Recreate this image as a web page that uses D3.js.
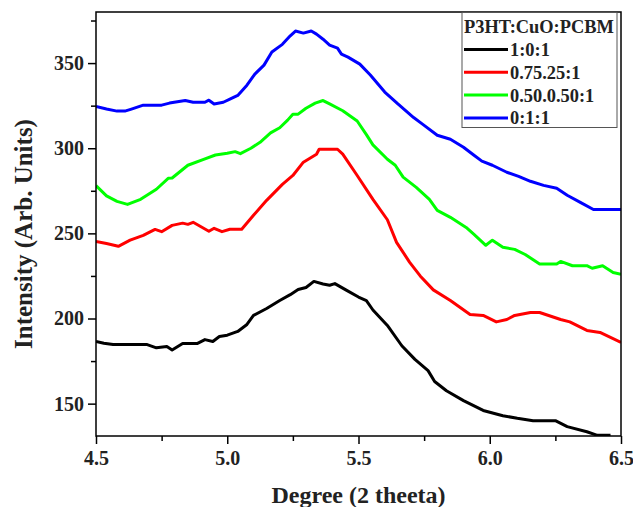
<!DOCTYPE html>
<html>
<head>
<meta charset="utf-8">
<script src="https://cdn.jsdelivr.net/npm/d3@7"></script>
<style>
  body { margin: 0; background: #fff; }
  text { font-family: "Liberation Serif", "Times New Roman", serif; font-weight: bold; }
</style>
</head>
<body>
<div id="chart"></div>
<script>
// series: [degree, intensity]
var black = [[4.50,186.5],[4.53,185.5],[4.565,184.7],[4.62,184.7],[4.695,184.7],[4.73,182.8],[4.77,183.5],[4.79,181.5],[4.83,185.3],[4.885,185.3],[4.915,187.6],[4.945,186.5],[4.97,189.4],[5.0,190.2],[5.04,192.4],[5.075,196.5],[5.1,201.8],[5.15,205.9],[5.2,210.6],[5.24,214],[5.27,217],[5.3,218.2],[5.33,221.8],[5.365,220.3],[5.39,219.5],[5.41,220.5],[5.455,216.5],[5.5,212.6],[5.53,210.5],[5.555,205],[5.61,195.9],[5.665,184],[5.715,176],[5.765,169.4],[5.79,163],[5.835,157.6],[5.9,151.8],[5.975,146],[6.05,142.9],[6.105,141.4],[6.165,140],[6.25,140],[6.295,136.5],[6.37,133.5],[6.41,131.4],[6.46,131.4]]
var red = [[4.5,245.3],[4.54,244],[4.585,242.4],[4.63,246],[4.68,248.8],[4.725,252.3],[4.75,251],[4.79,254.7],[4.83,256],[4.85,255.3],[4.87,256.5],[4.93,251.2],[4.95,253],[4.98,251],[5.01,252.4],[5.055,252.4],[5.1,260.6],[5.15,269.4],[5.21,278.8],[5.25,284],[5.29,291.8],[5.34,296.5],[5.35,299.4],[5.42,299.4],[5.44,296.5],[5.495,284],[5.555,270],[5.61,258],[5.645,244.7],[5.695,233],[5.735,225],[5.785,216.8],[5.85,210.6],[5.925,202.4],[5.975,201.8],[6.025,198],[6.065,199.4],[6.095,201.8],[6.155,203.5],[6.19,203.5],[6.27,199.4],[6.305,198],[6.37,193],[6.42,191.8],[6.5,185.9]]
var green = [[4.5,278],[4.54,272],[4.58,268.8],[4.62,267],[4.67,270],[4.70,273],[4.73,275.9],[4.775,282.3],[4.79,282.5],[4.85,290],[4.91,293.5],[4.955,296],[5.0,297],[5.03,298],[5.05,296.8],[5.09,300],[5.125,303.5],[5.165,309],[5.2,312],[5.23,316.5],[5.25,320],[5.27,320],[5.3,323.5],[5.335,326.5],[5.365,328],[5.39,326],[5.44,322],[5.495,316],[5.53,308],[5.555,302],[5.61,293.5],[5.64,290],[5.67,283],[5.72,277],[5.77,270],[5.8,263.5],[5.85,259.4],[5.91,253.5],[5.94,249.4],[5.985,243],[6.01,246],[6.05,241.8],[6.095,240.6],[6.135,237.6],[6.19,232],[6.255,232],[6.27,233.5],[6.315,231],[6.37,231],[6.39,229.5],[6.43,231],[6.47,227],[6.5,226]]
var blue = [[4.5,324.5],[4.54,323],[4.58,321.8],[4.61,321.8],[4.635,323],[4.68,325.3],[4.75,325.3],[4.78,326.5],[4.84,328],[4.87,327],[4.915,327],[4.93,328.2],[4.95,326],[4.985,327],[5.01,328.8],[5.04,331],[5.075,337],[5.105,343.5],[5.14,348.8],[5.17,356.5],[5.21,361],[5.24,366],[5.26,368.8],[5.29,367.6],[5.32,368.8],[5.34,367],[5.365,364],[5.39,360.6],[5.42,358.8],[5.435,355.3],[5.46,353.5],[5.505,349.4],[5.545,343],[5.6,333],[5.65,326],[5.71,318],[5.745,314],[5.8,307.6],[5.85,305.3],[5.9,300.6],[5.94,295.9],[5.97,292.4],[6.01,290],[6.065,285.9],[6.11,283.5],[6.155,280.6],[6.205,278.2],[6.255,276.5],[6.295,272.4],[6.345,268.2],[6.395,264],[6.5,264]]

var seriesNames = ["1:0:1", "0.75.25:1", "0.50.0.50:1", "0:1:1"]
var seriesColors = ["#000000", "#ff0000", "#00ff00", "#0000ff"]
var seriesData = [black, red, green, blue]
var legendTitle = "P3HT:CuO:PCBM"

var xTicks = [4.5, 5.0, 5.5, 6.0, 6.5]
var xMinor = [4.75, 5.25, 5.75, 6.25]
var yTicks = [150, 200, 250, 300, 350]
var yMinor = [175, 225, 275, 325, 375]

var width = 633, height = 507
var margin = {top: 12, right: 12, bottom: 71, left: 96}

const svg = d3.select("#chart").append("svg")
	.attr("width", width)
	.attr("height", height)

let x = d3.scaleLinear().domain([4.5, 6.5]).range([margin.left, width - margin.right])
let y = d3.scaleLinear().domain([131, 380]).range([height - margin.bottom, margin.top])

svg.append("clipPath").attr("id", "plotclip")
	.append("rect")
	.attr("x", margin.left).attr("y", margin.top)
	.attr("width", width - margin.left - margin.right)
	.attr("height", height - margin.top - margin.bottom)

// curves
var line = d3.line().x(d=>x(d[0])).y(d=>y(d[1]))
svg.append("g").attr("clip-path", "url(#plotclip)")
	.selectAll("path")
	.data(seriesData)
	.enter().append("path")
	.attr("d", line)
	.attr("fill", "none")
	.attr("stroke", (d,i)=>seriesColors[i])
	.attr("stroke-width", 3)
	.attr("stroke-linejoin", "round")

// axes
var xAxis = svg.append("g")
	.attr("transform", "translate(0," + (height - margin.bottom) + ")")
	.call(d3.axisBottom(x).tickValues(xTicks).tickFormat(d3.format(".1f")).tickSize(8).tickSizeOuter(0))
xAxis.append("g").call(d3.axisBottom(x).tickValues(xMinor).tickFormat("").tickSize(5).tickSizeOuter(0))

var yAxis = svg.append("g")
	.attr("transform", "translate(" + margin.left + ",0)")
	.call(d3.axisLeft(y).tickValues(yTicks).tickSize(8).tickSizeOuter(0))
yAxis.append("g").call(d3.axisLeft(y).tickValues(yMinor).tickFormat("").tickSize(5).tickSizeOuter(0))

svg.selectAll(".domain").remove()
svg.selectAll(".tick line").attr("stroke", "#000").attr("stroke-width", 1.5)
svg.selectAll(".tick text")
	.attr("fill", "#222")
	.style("font-size", "20px")
	.style("font-family", "Liberation Serif")
	.style("font-weight", "bold")
xAxis.selectAll(".tick text").attr("dy", "0.71em").attr("y", 15)
yAxis.selectAll(".tick text").attr("x", -12)

// frame
svg.append("rect")
	.attr("x", margin.left).attr("y", margin.top)
	.attr("width", width - margin.left - margin.right)
	.attr("height", height - margin.top - margin.bottom)
	.attr("fill", "none")
	.attr("stroke", "#000")
	.attr("stroke-width", 1.5)

// axis titles
svg.append("text")
	.attr("x", (margin.left + width - margin.right) / 2)
	.attr("y", 503)
	.attr("text-anchor", "middle")
	.attr("fill", "#222")
	.style("font-size", "24px")
	.text("Degree (2 theeta)")

svg.append("text")
	.attr("transform", "translate(32,234) rotate(-90)")
	.attr("text-anchor", "middle")
	.attr("fill", "#222")
	.style("font-size", "25px")
	.text("Intensity (Arb. Units)")

// legend
var lg = svg.append("g")
lg.append("rect")
	.attr("x", 462).attr("y", 12.5)
	.attr("width", 155).attr("height", 115)
	.attr("fill", "#fff")
	.attr("stroke", "#555")
	.attr("stroke-width", 1)
lg.append("text")
	.attr("x", 464).attr("y", 33)
	.attr("fill", "#222")
	.style("font-size", "18.4px")
	.text(legendTitle)

var rows = lg.selectAll(".row")
	.data(seriesNames)
	.enter().append("g")
	.attr("class", "row")
	.attr("transform", (d,i)=>"translate(0," + (49.5 + i*22.8) + ")")
rows.append("line")
	.attr("x1", 464).attr("x2", 508)
	.attr("stroke", (d,i)=>seriesColors[i])
	.attr("stroke-width", 3)
rows.append("text")
	.attr("x", 510).attr("y", 6.5)
	.attr("fill", "#222")
	.style("font-size", "18.4px")
	.text(d=>d)
</script>
</body>
</html>
